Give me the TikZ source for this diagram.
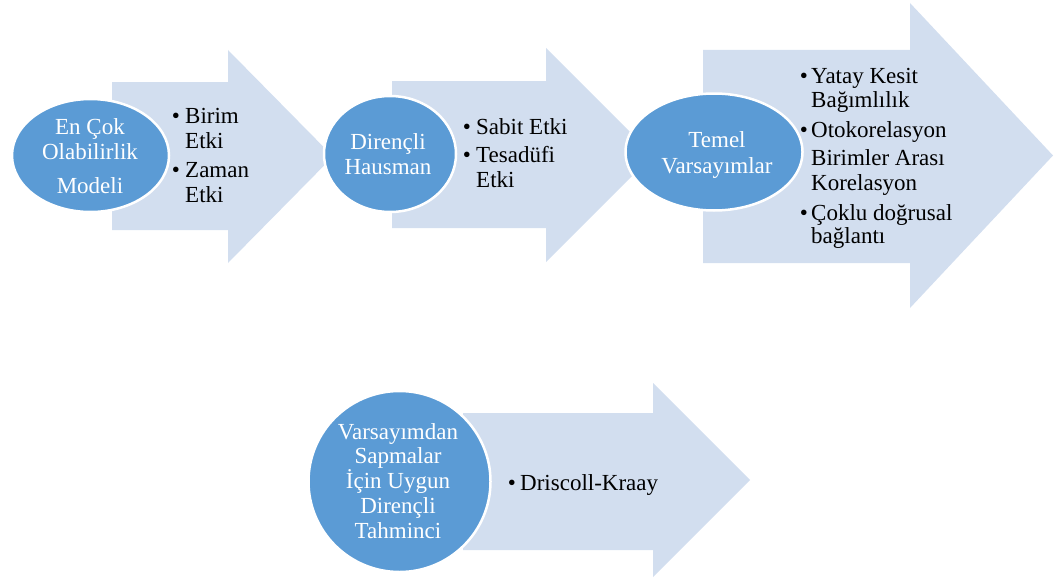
\documentclass[tikz,border=0pt]{standalone}
\usepackage{fontspec}
\setmainfont{Liberation Serif}
\usetikzlibrary{shapes.geometric}
\definecolor{ovalblue}{RGB}{91,155,213}
\definecolor{arrowblue}{RGB}{210,222,239}
\begin{document}
\begin{tikzpicture}[x=1pt,y=-1pt,
  oval/.style={ellipse, fill=ovalblue, draw=white, line width=2.5pt, inner sep=0pt},
  arrowshape/.style={fill=arrowblue},
  wtext/.style={anchor=base, text=white, font=\fontsize{23}{25}\selectfont, inner sep=0pt},
  btext/.style={anchor=base west, text=black, font=\fontsize{23}{25}\selectfont, inner sep=0pt},
  bul/.style={anchor=base, text=black, font=\fontsize{23}{25}\selectfont, inner sep=0pt}]
\useasboundingbox (0,0) rectangle (1054,578);
% arrows
\fill[arrowshape] (112,82) -- (228,82) -- (228,50) -- (333,156.5) -- (228,263) -- (228,230) -- (112,230) -- cycle;
\fill[arrowshape] (392,81) -- (546,81) -- (546,48) -- (653,155) -- (546,262) -- (546,228) -- (392,228) -- cycle;
\fill[arrowshape] (703,50) -- (910,50) -- (910,3) -- (1053,155.5) -- (910,308) -- (910,263) -- (703,263) -- cycle;
\fill[arrowshape] (463,413) -- (653,413) -- (653,383) -- (750,480) -- (653,577) -- (653,550) -- (463,550) -- cycle;
% ovals
\node[oval, minimum width=157pt, minimum height=113pt] (e1) at (90.5,155.5) {};
\node[oval, minimum width=132pt, minimum height=116pt] (e2) at (390,154) {};
\node[oval, minimum width=177pt, minimum height=117pt] (e3) at (714,152) {};
\node[oval, minimum width=182pt, minimum height=181pt] (e4) at (399.5,481.5) {};
% oval texts
\node[wtext] (e1a) at (90,134) {En Çok};
\node[wtext] (e1b) at (90,159) {Olabilirlik};
\node[wtext] (e1c) at (90,193) {Modeli};
\node[wtext] (e2a) at (388,149) {Dirençli};
\node[wtext] (e2b) at (388,174) {Hausman};
\node[wtext] (e3a) at (717,147) {Temel};
\node[wtext] (e3b) at (717,173) {Varsayımlar};
\node[wtext] (e4a) at (398,439) {Varsayımdan};
\node[wtext] (e4b) at (398,463) {Sapmalar};
\node[wtext] (e4c) at (398,488) {İçin Uygun};
\node[wtext] (e4d) at (398,513) {Dirençli};
\node[wtext] (e4e) at (398,538) {Tahminci};
% arrow 1 bullets
\node[bul] (b1a) at (176,123) {•};
\node[btext] (t1a) at (185,123) {Birim};
\node[btext] (t1b) at (185,148) {Etki};
\node[bul] (b1b) at (176,177) {•};
\node[btext] (t1c) at (185,177) {Zaman};
\node[btext] (t1d) at (185,202) {Etki};
% arrow 2 bullets
\node[bul] (b2a) at (467,134) {•};
\node[btext] (t2a) at (476,134) {Sabit Etki};
\node[bul] (b2b) at (467,162) {•};
\node[btext] (t2b) at (476,162) {Tesadüfi};
\node[btext] (t2c) at (476,187) {Etki};
% arrow 3 bullets
\node[bul] (b3a) at (804,83) {•};
\node[btext] (t3a) at (811,83) {Yatay Kesit};
\node[btext] (t3b) at (811,107) {Bağımlılık};
\node[bul] (b3b) at (804,137) {•};
\node[btext] (t3c) at (811,137) {Otokorelasyon};
\node[btext] (t3d) at (811,165) {Birimler Arası};
\node[btext] (t3e) at (811,190) {Korelasyon};
\node[bul] (b3c) at (804,220) {•};
\node[btext] (t3f) at (811,220) {Çoklu doğrusal};
\node[btext] (t3g) at (811,243) {bağlantı};
% arrow 4 bullet
\node[bul] (b4a) at (512,490) {•};
\node[btext] (t4a) at (520,490) {Driscoll-Kraay};
\end{tikzpicture}
\end{document}
